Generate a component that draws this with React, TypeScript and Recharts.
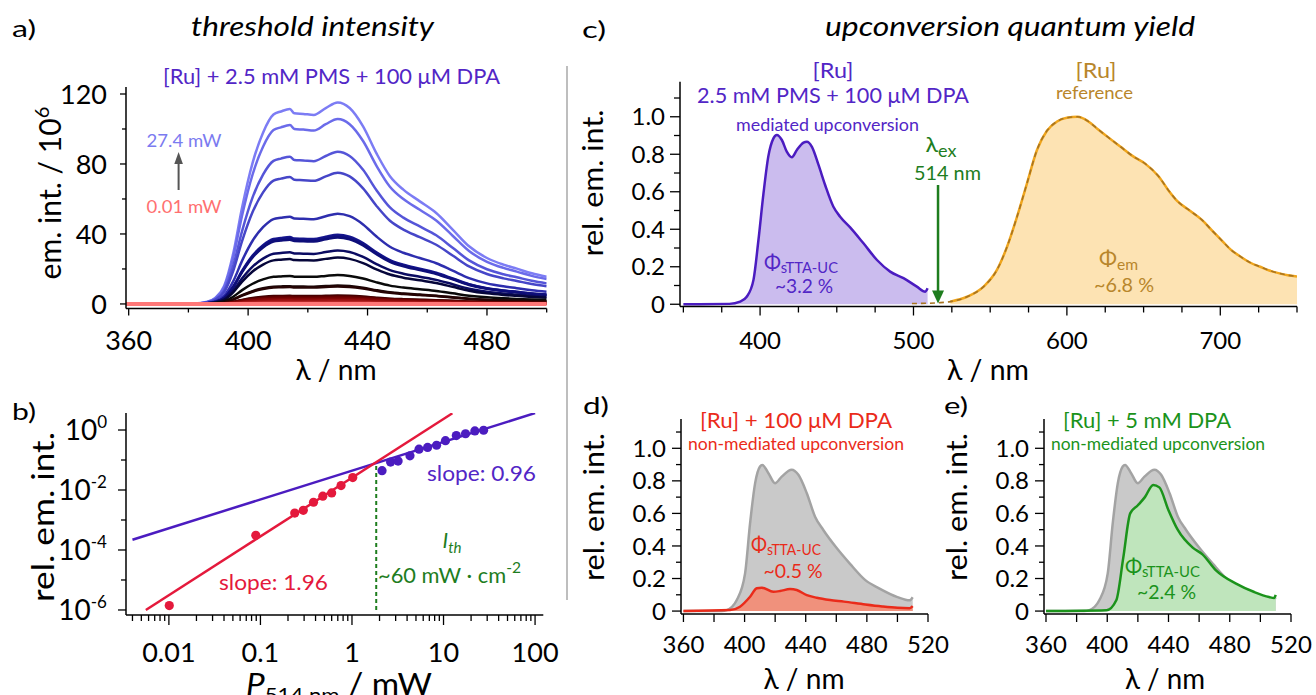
import React from 'react';
import { ComposedChart, Line, Area, Scatter, XAxis, YAxis, ReferenceLine, ReferenceDot } from 'recharts';

const FONT = "Lato, 'Open Sans', 'DejaVu Sans', sans-serif";

// ---------- panel a : emission spectra vs. excitation power ----------
const wlA = [359, 375, 382, 386, 389, 392, 395, 398, 401.5, 405, 408.5, 411, 414, 415.5, 418.5, 422, 426, 430, 434, 438.5, 443, 447.5, 452, 457.5, 463, 468.5, 474, 480, 485.5, 490, 495, 500];
const shapeA = [0, 0, 0.002, 0.01, 0.03, 0.09, 0.25, 0.48, 0.7, 0.85, 0.94, 0.955, 0.967, 0.946, 0.943, 0.938, 0.972, 1.0, 0.972, 0.881, 0.747, 0.634, 0.567, 0.509, 0.451, 0.369, 0.286, 0.228, 0.195, 0.175, 0.152, 0.135];
const peakA = [115.2, 105.7, 87, 75, 51.6, 39.5, 38.8, 38, 30.5, 26.5, 16.5, 10.5, 10, 4.8, 4.4, 3.8, 3.0, 2.0, 1.2, 0.6, 0.2, 0.02];
const colorsA = ['#7c7cf4', '#6b6bea', '#5555d8', '#4646c8', '#2e2eae', '#16168f', '#121285', '#0e0e7a', '#0b0b62', '#06063a', '#0a0a0a', '#1a0a0a', '#250303', '#3c0000', '#520000', '#680000', '#800505', '#981010', '#b02020', '#c83838', '#e05555', '#ff7878'];
const ticksAx = [360, 380, 400, 420, 440, 460, 480, 500];
const majorsAx = [360, 400, 440, 480];
const ticksAy = [0, 20, 40, 60, 80, 100, 120];
const majorsAy = [0, 40, 80, 120];

// ---------- panel b : power dependence ----------
const powRed = [0.0101, 0.089, 0.237, 0.294, 0.38, 0.48, 0.6, 0.76, 1.02];
const intRed = [1.4e-6, 3.1e-4, 1.7e-3, 2.1e-3, 3.9e-3, 6.2e-3, 8e-3, 0.014, 0.026];
const powPurple = [2.13, 2.64, 3.19, 4.3, 5.4, 6.7, 8.4, 10.5, 13.8, 17.4, 22, 27.4];
const intPurple = [0.044, 0.085, 0.092, 0.138, 0.23, 0.263, 0.31, 0.44, 0.65, 0.75, 0.93, 0.98];
const fitRedX = [0.0056, 12.5];
const fitRedY = [1.0e-6, 3.6];
const fitPurpleX = [0.004, 100];
const fitPurpleY = [2.2e-4, 3.67];
const thresholdX = 1.84;
const thresholdTop = 0.075;
const ticksBx = [0.004, 0.005, 0.006, 0.007, 0.008, 0.009, 0.01, 0.02, 0.03, 0.04, 0.05, 0.06, 0.07, 0.08, 0.09, 0.1, 0.2, 0.3, 0.4, 0.5, 0.6, 0.7, 0.8, 0.9, 1, 2, 3, 4, 5, 6, 7, 8, 9, 10, 20, 30, 40, 50, 60, 70, 80, 90, 100];
const majorsBx = [0.01, 0.1, 1, 10, 100];
const labelsBx = ['0.01', '0.1', '1', '10', '100'];
const ticksBy = [1e-6, 1e-5, 1e-4, 1e-3, 1e-2, 1e-1, 1];
const majorsBy = [1e-6, 1e-4, 1e-2, 1];
const expBy = ['-6', '-4', '-2', '0'];

// ---------- panel c : quantum yield ----------
const wlUC = [350, 380, 387, 391.3, 395.7, 398.9, 402.2, 405.4, 408.7, 410.9, 414.2, 417.4, 420.7, 424, 428.3, 430.5, 433.8, 438.1, 442.4, 447.8, 452.2, 458.7, 467.4, 476.2, 484.8, 493.5, 502.2, 507.7, 509.2];
const intUC = [0, 0.002, 0.014, 0.04, 0.13, 0.34, 0.59, 0.79, 0.885, 0.903, 0.876, 0.814, 0.784, 0.823, 0.862, 0.867, 0.84, 0.743, 0.636, 0.52, 0.467, 0.41, 0.325, 0.236, 0.174, 0.139, 0.094, 0.067, 0.085];
const wlRef = [524, 534.9, 545.7, 554.4, 561, 567.5, 574, 580.5, 587, 593.6, 600, 607, 614, 620, 627, 635, 643, 651, 660, 666, 672, 680, 688, 695, 701, 707, 713, 720, 726, 732, 738, 744, 750];
const intRef = [0.014, 0.04, 0.094, 0.183, 0.307, 0.467, 0.645, 0.823, 0.925, 0.975, 0.995, 1.0, 0.975, 0.935, 0.89, 0.84, 0.79, 0.75, 0.68, 0.61, 0.55, 0.5, 0.45, 0.39, 0.34, 0.29, 0.255, 0.22, 0.2, 0.18, 0.166, 0.155, 0.148];
const wlRefTail = [499, 508, 516];
const intRefTail = [0.004, 0.005, 0.008];
const exWl = 516;
const ticksCx = [350, 375, 400, 425, 450, 475, 500, 525, 550, 575, 600, 625, 650, 675, 700, 725, 750];
const majorsCx = [400, 500, 600, 700];
const ticksRel = [0, 0.1, 0.2, 0.3, 0.4, 0.5, 0.6, 0.7, 0.8, 0.9, 1.0, 1.1];
const majorsRel = [0, 0.2, 0.4, 0.6, 0.8, 1.0];

// ---------- panels d, e ----------
const wlGrey = [360, 385, 388.4, 394.9, 400.3, 403.6, 406.9, 410.1, 411.6, 415.6, 419.9, 424.3, 430.8, 435.2, 440.7, 446.1, 451.5, 460, 469, 479, 488, 500, 508, 510];
const intGrey = [0, 0, 0.006, 0.068, 0.23, 0.54, 0.786, 0.888, 0.898, 0.847, 0.786, 0.826, 0.868, 0.837, 0.724, 0.58, 0.498, 0.39, 0.29, 0.19, 0.14, 0.086, 0.066, 0.085];
const wlRedD = [360, 390.5, 397, 403.6, 408, 411.2, 418.8, 423.2, 429.7, 434.1, 440.7, 447.2, 455.9, 465, 479, 490, 500, 508, 510];
const intRedD = [0, 0.006, 0.027, 0.088, 0.14, 0.144, 0.119, 0.123, 0.135, 0.129, 0.098, 0.082, 0.068, 0.058, 0.04, 0.028, 0.02, 0.018, 0.03];
const wlGreenE = [360, 399.6, 405.9, 410.5, 415, 420, 424.6, 430, 434, 440, 446, 455.8, 462, 471, 483.8, 496, 505.7, 509, 510];
const intGreenE = [0, 0.005, 0.066, 0.33, 0.6, 0.65, 0.7, 0.775, 0.76, 0.62, 0.5, 0.39, 0.35, 0.25, 0.17, 0.117, 0.086, 0.08, 0.1];
const ticksDx = [360, 380, 400, 420, 440, 460, 480, 500, 520];
const majorsDx = [360, 400, 440, 480, 520];

// ---------- built tables ----------
const tableA = wlA.map((wl, i) => {
  const row: Record<string, number> = { wl };
  peakA.forEach((p, j) => {
    row[`s${j}`] = p * shapeA[i];
  });
  return row;
});
const zip = (xs: number[], ys: number[]) => xs.map((x, i) => ({ x, y: ys[i] }));
const ptsRed = zip(powRed, intRed);
const ptsPurple = zip(powPurple, intPurple);
const fitRed = zip(fitRedX, fitRedY);
const fitPurple = zip(fitPurpleX, fitPurpleY);
const ucC = zip(wlUC, intUC);
const refC = zip(wlRef, intRef);
const refDash = zip([...wlRefTail, ...wlRef], [...intRefTail, ...intRef]);
const greyD = zip(wlGrey, intGrey);
const redD = zip(wlRedD, intRedD);
const greenE = zip(wlGreenE, intGreenE);

// ---------- colours ----------
const PURPLE = '#5226c6';
const PURPLE_LINE = '#4b1cc0';
const PURPLE_FILL = '#cbbcee';
const RED_B = '#e4193c';
const GREEN_B = '#1e7d1e';
const GOLD = '#b8862b';
const ORANGE = '#efa51d';
const ORANGE_FILL = '#fde3b3';
const RED_D = '#ea2b1a';
const RED_FILL = '#f0917c';
const GREEN_E = '#1b931b';
const GREEN_FILL = '#bfe5bc';
const GREY_LINE = '#a3a3a3';
const GREY_FILL = '#c9c9c9';

const AXIS = { stroke: '#000', strokeWidth: 1.5 };

function tickFactory(side: 'bottom' | 'left', majors: number[], fmt: (v: number) => React.ReactNode, majorLen: number, minorLen: number, fontSize: number, gap: number) {
  return (props: any) => {
    const { x, y, payload } = props;
    const v = Number(payload.value);
    const isMajor = majors.some((m) => Math.abs(m - v) <= Math.abs(m) * 1e-6 + 1e-12);
    const len = isMajor ? majorLen : minorLen;
    if (side === 'bottom') {
      return (
        <g>
          <line x1={x} y1={y} x2={x} y2={y + len} stroke="#000" strokeWidth={1.3} />
          {isMajor ? (
            <text x={x} y={y + gap} textAnchor="middle" fontSize={fontSize} fontFamily={FONT} fill="#000">
              {fmt(v)}
            </text>
          ) : null}
        </g>
      );
    }
    return (
      <g>
        <line x1={x - len} y1={y} x2={x} y2={y} stroke="#000" strokeWidth={1.3} />
        {isMajor ? (
          <text x={x - gap} y={y} dy="0.36em" textAnchor="end" fontSize={fontSize} fontFamily={FONT} fill="#000">
            {fmt(v)}
          </text>
        ) : null}
      </g>
    );
  };
}

const fmtInt = (v: number) => String(Math.round(v));
const fmtRel = (v: number) => (Math.abs(v) < 1e-9 ? '0' : v.toFixed(1));
const fmtBx = (v: number) => {
  const i = majorsBx.findIndex((m) => Math.abs(m - v) <= m * 1e-6);
  return labelsBx[i];
};
const fmtBy = (v: number) => {
  const i = majorsBy.findIndex((m) => Math.abs(m - v) <= m * 1e-6);
  return [
    <tspan key="b">10</tspan>,
    <tspan key="e" dy={-12} fontSize={17}>
      {expBy[i]}
    </tspan>,
  ];
};

const tickAx = tickFactory('bottom', majorsAx, fmtInt, 7, 4, 27, 41.5);
const tickAy = tickFactory('left', majorsAy, fmtInt, 6, 4, 27, 19);
const tickBx = tickFactory('bottom', majorsBx, fmtBx, 10, 6, 27, 47);
const tickBy = tickFactory('left', majorsBy, fmtBy, 8, 5, 28, 19);
const tickCx = tickFactory('bottom', majorsCx, fmtInt, 9, 6, 24, 42.5);
const tickCy = tickFactory('left', majorsRel, fmtRel, 10, 6, 24, 15);
const tickDx = tickFactory('bottom', majorsDx, fmtInt, 8, 8, 24, 39);
const tickDy = tickFactory('left', majorsRel, fmtRel, 9, 5, 24, 15);

const dotShape = (color: string) => (p: any) => <circle cx={p.cx} cy={p.cy} r={4.6} fill={color} />;

const arrowHead = (p: any) => (
  <polygon points={`${p.cx},${p.cy} ${p.cx - 6},${p.cy - 13} ${p.cx + 6},${p.cy - 13}`} fill={GREEN_B} />
);

type TProps = {
  x: number;
  y: number;
  size: number;
  color?: string;
  anchor?: 'start' | 'middle' | 'end';
  italic?: boolean;
  len?: number;
  rotate?: boolean;
  children: React.ReactNode;
};
const T = ({ x, y, size, color = '#000', anchor = 'middle', italic = false, len, rotate = false, children }: TProps) => (
  <text
    x={x}
    y={y}
    fontSize={size}
    fill={color}
    textAnchor={anchor}
    fontStyle={italic ? 'italic' : 'normal'}
    fontFamily={FONT}
    textLength={len}
    lengthAdjust={len ? 'spacingAndGlyphs' : undefined}
    transform={rotate ? `rotate(-90 ${x} ${y})` : undefined}
  >
    {children}
  </text>
);

const commonX = { type: 'number' as const, allowDataOverflow: true, interval: 0 as const, tickLine: false, tickSize: 0, tickMargin: 0, axisLine: AXIS };

export default function App() {
  return (
    <div style={{ position: 'absolute', left: 0, top: 0, width: 1316, height: 695, background: '#fff', overflow: 'hidden', fontFamily: FONT }}>
      {/* panel a */}
      <div style={{ position: 'absolute', left: 26, top: 0 }}>
        <ComposedChart width={550.7} height={368.5} margin={{ top: 87, right: 30, bottom: 0, left: 0 }} data={tableA}>
          <XAxis dataKey="wl" {...commonX} domain={[359.1, 500]} ticks={ticksAx} height={60} tick={tickAx} />
          <YAxis {...commonX} domain={[-2.6, 124]} ticks={ticksAy} width={100} tick={tickAy} />
          {peakA.map((_, j) => (
            <Line
              key={j}
              dataKey={`s${j}`}
              type="monotone"
              stroke={colorsA[j]}
              strokeWidth={j === peakA.length - 1 ? 4 : 2.5}
              dot={false}
              isAnimationActive={false}
            />
          ))}
        </ComposedChart>
      </div>

      {/* panel b */}
      <div style={{ position: 'absolute', left: 26, top: 380 }}>
        <ComposedChart width={547.3} height={305} margin={{ top: 33, right: 30, bottom: 0, left: 0 }}>
          <XAxis dataKey="x" {...commonX} scale="log" domain={[0.0034, 123]} ticks={ticksBx} height={70} tick={tickBx} />
          <YAxis {...commonX} scale="log" domain={[6.8e-7, 3.69]} ticks={ticksBy} width={100} tick={tickBy} />
          <Line data={fitPurple} dataKey="y" type="linear" stroke={PURPLE_LINE} strokeWidth={2.5} dot={false} isAnimationActive={false} />
          <Line data={fitRed} dataKey="y" type="linear" stroke={RED_B} strokeWidth={2.5} dot={false} isAnimationActive={false} />
          <ReferenceLine
            segment={[
              { x: thresholdX, y: 1e-6 },
              { x: thresholdX, y: thresholdTop },
            ]}
            stroke={GREEN_B}
            strokeWidth={2}
            strokeDasharray="4 3"
          />
          <Scatter data={ptsRed} dataKey="y" fill={RED_B} shape={dotShape(RED_B)} isAnimationActive={false} />
          <Scatter data={ptsPurple} dataKey="y" fill={PURPLE_LINE} shape={dotShape(PURPLE_LINE)} isAnimationActive={false} />
        </ComposedChart>
      </div>

      {/* panel c */}
      <div style={{ position: 'absolute', left: 580, top: 0 }}>
        <ComposedChart width={737} height={366.5} margin={{ top: 81.7, right: 20, bottom: 0, left: 0 }}>
          <XAxis dataKey="x" {...commonX} domain={[347.8, 750]} ticks={ticksCx} height={60} tick={tickCx} />
          <YAxis {...commonX} domain={[-0.012, 1.187]} ticks={ticksRel} width={100} tick={tickCy} />
          <Area data={ucC} dataKey="y" type="monotone" stroke={PURPLE_LINE} strokeWidth={2.5} fill={PURPLE_FILL} fillOpacity={1} isAnimationActive={false} />
          <Area data={refC} dataKey="y" type="monotone" stroke={ORANGE} strokeWidth={2.5} fill={ORANGE_FILL} fillOpacity={1} isAnimationActive={false} />
          <Line data={refDash} dataKey="y" type="monotone" stroke="#a87420" strokeWidth={1.6} strokeDasharray="5 4" dot={false} isAnimationActive={false} />
          <ReferenceLine
            segment={[
              { x: exWl, y: 0.636 },
              { x: exWl, y: 0.06 },
            ]}
            stroke={GREEN_B}
            strokeWidth={2.5}
          />
          <ReferenceDot x={exWl} y={0.004} r={6} shape={arrowHead} />
        </ComposedChart>
      </div>

      {/* panel d */}
      <div style={{ position: 'absolute', left: 581, top: 380 }}>
        <ComposedChart width={377} height={294} margin={{ top: 39, right: 30, bottom: 0, left: 0 }}>
          <XAxis dataKey="x" {...commonX} domain={[358.4, 520]} ticks={ticksDx} height={60} tick={tickDx} />
          <YAxis {...commonX} domain={[-0.018, 1.18]} ticks={ticksRel} width={100} tick={tickDy} />
          <Area data={greyD} dataKey="y" type="monotone" stroke={GREY_LINE} strokeWidth={2.5} fill={GREY_FILL} fillOpacity={1} isAnimationActive={false} />
          <Area data={redD} dataKey="y" type="monotone" stroke={RED_D} strokeWidth={2.5} fill={RED_FILL} fillOpacity={1} isAnimationActive={false} />
        </ComposedChart>
      </div>

      {/* panel e */}
      <div style={{ position: 'absolute', left: 944, top: 380 }}>
        <ComposedChart width={377} height={294} margin={{ top: 39, right: 30, bottom: 0, left: 0 }}>
          <XAxis dataKey="x" {...commonX} domain={[358.7, 520]} ticks={ticksDx} height={60} tick={tickDx} />
          <YAxis {...commonX} domain={[-0.018, 1.18]} ticks={ticksRel} width={100} tick={tickDy} />
          <Area data={greyD} dataKey="y" type="monotone" stroke={GREY_LINE} strokeWidth={2.5} fill={GREY_FILL} fillOpacity={1} isAnimationActive={false} />
          <Area data={greenE} dataKey="y" type="monotone" stroke={GREEN_E} strokeWidth={2.5} fill={GREEN_FILL} fillOpacity={1} isAnimationActive={false} />
        </ComposedChart>
      </div>

      {/* annotations */}
      <svg width={1316} height={695} style={{ position: 'absolute', left: 0, top: 0, pointerEvents: 'none' }}>
        <line x1={567} y1={66} x2={567} y2={600} stroke="#a8a8a8" strokeWidth={1.5} />

        {/* a */}
        <T x={12} y={37} size={24} anchor="start" len={24}>a)</T>
        <T x={312.5} y={36} size={27} italic len={243}>threshold intensity</T>
        <T x={331.5} y={84} size={21} color={PURPLE} len={337}>[Ru] + 2.5 mM PMS + 100 μM DPA</T>
        <T x={184} y={147} size={17} color="#7b7bf0" len={75}>27.4 mW</T>
        <T x={184} y={213} size={17} color="#ff7070" len={75}>0.01 mW</T>
        <line x1={178.6} y1={190} x2={178.6} y2={160} stroke="#555" strokeWidth={2} />
        <polygon points="178.6,152 174.3,164 182.9,164" fill="#555" />
        <T x={61} y={193} size={30} rotate len={173}>
          <tspan>em. int. / 10</tspan>
          <tspan dy={-12} fontSize={20}>6</tspan>
        </T>
        <T x={336} y={380} size={29} len={81}>λ / nm</T>

        {/* b */}
        <T x={12} y={420} size={24} anchor="start" len={24}>b)</T>
        <T x={54} y={517} size={30} rotate len={170}>rel. em. int.</T>
        <T x={273.5} y={590} size={22} color={RED_B} len={109}>slope: 1.96</T>
        <T x={481.5} y={481} size={22} color={PURPLE} len={109}>slope: 0.96</T>
        <T x={452} y={548} size={21} color={GREEN_B} italic len={19}>
          <tspan>I</tspan>
          <tspan dy={5} fontSize={15}>th</tspan>
        </T>
        <T x={449.5} y={583} size={21} color={GREEN_B} len={143}>
          <tspan>~60 mW · cm</tspan>
          <tspan dy={-10} fontSize={15}>-2</tspan>
        </T>
        <T x={339} y={695} size={30} len={186}>
          <tspan fontStyle="italic">P</tspan>
          <tspan dy={7} fontSize={20}>514 nm</tspan>
          <tspan dy={-7}> / mW</tspan>
        </T>

        {/* c */}
        <T x={582} y={38} size={24} anchor="start" len={24}>c)</T>
        <T x={1010} y={36} size={27} italic len={370}>upconversion quantum yield</T>
        <T x={833} y={78} size={21} color={PURPLE} len={41}>[Ru]</T>
        <T x={833} y={103} size={21} color={PURPLE} len={272}>2.5 mM PMS + 100 μM DPA</T>
        <T x={827.5} y={131} size={17} color={PURPLE} len={183}>mediated upconversion</T>
        <T x={941} y={152} size={22} color={GREEN_B} len={31}>
          <tspan>λ</tspan>
          <tspan dy={5} fontSize={17}>ex</tspan>
        </T>
        <T x={947.5} y={180} size={19} color={GREEN_B} len={67}>514 nm</T>
        <T x={801} y={270} size={22} color={PURPLE} len={74}>
          <tspan>Φ</tspan>
          <tspan dy={3} fontSize={16}>sTTA-UC</tspan>
        </T>
        <T x={804} y={293} size={20} color={PURPLE} len={58}>~3.2 %</T>
        <T x={1096} y={78} size={21} color={GOLD} len={41}>[Ru]</T>
        <T x={1094.5} y={99} size={17} color={GOLD} len={77}>reference</T>
        <T x={1118.5} y={266} size={22} color={GOLD} len={39}>
          <tspan>Φ</tspan>
          <tspan dy={4} fontSize={16}>em</tspan>
        </T>
        <T x={1124} y={292} size={20} color={GOLD} len={60}>~6.8 %</T>
        <T x={603} y={183} size={28} rotate len={147}>rel. em. int.</T>
        <T x={988} y={380} size={29} len={82}>λ / nm</T>

        {/* d */}
        <T x={583} y={414} size={24} anchor="start" len={26}>d)</T>
        <T x={796} y={428} size={21} color={RED_D} len={192}>[Ru] + 100 μM DPA</T>
        <T x={796} y={450} size={17} color={RED_D} len={216}>non-mediated upconversion</T>
        <T x={786} y={552} size={22} color={RED_D} len={70}>
          <tspan>Φ</tspan>
          <tspan dy={3} fontSize={16}>sTTA-UC</tspan>
        </T>
        <T x={793} y={578} size={20} color={RED_D} len={59}>~0.5 %</T>
        <T x={604} y={507} size={28} rotate len={148}>rel. em. int.</T>
        <T x={804} y={689} size={29} len={81}>λ / nm</T>

        {/* e */}
        <T x={944} y={414} size={24} anchor="start" len={24}>e)</T>
        <T x={1147} y={428} size={21} color={GREEN_E} len={168}>[Ru] + 5 mM DPA</T>
        <T x={1158} y={450} size={17} color={GREEN_E} len={214}>non-mediated upconversion</T>
        <T x={1162.5} y={574} size={22} color={GREEN_E} len={75}>
          <tspan>Φ</tspan>
          <tspan dy={3} fontSize={16}>sTTA-UC</tspan>
        </T>
        <T x={1166.5} y={599} size={20} color={GREEN_E} len={59}>~2.4 %</T>
        <T x={967} y={507} size={28} rotate len={148}>rel. em. int.</T>
        <T x={1165} y={689} size={29} len={80}>λ / nm</T>
      </svg>
    </div>
  );
}
